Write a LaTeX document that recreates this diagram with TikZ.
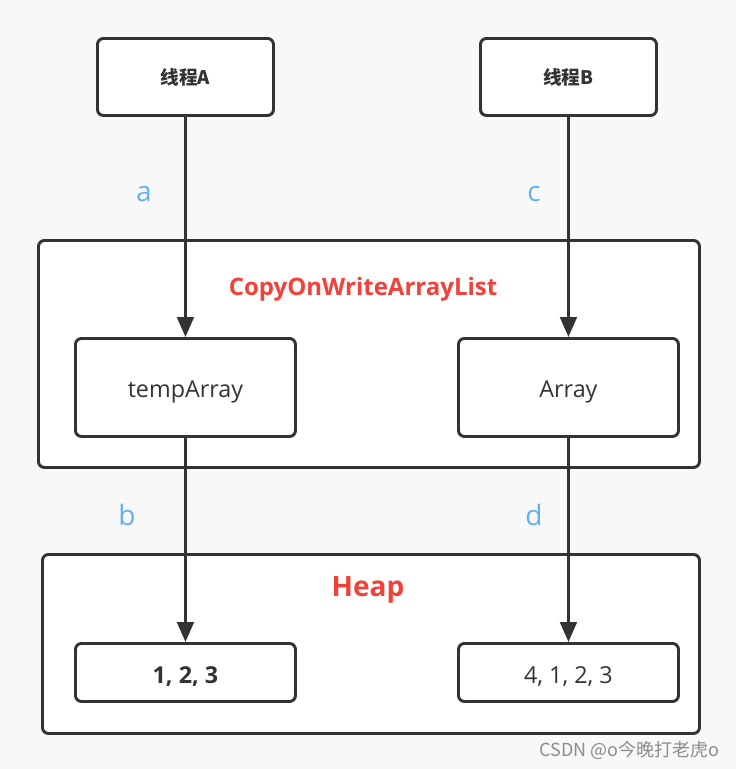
\documentclass[tikz,border=0pt]{standalone}
\usepackage{fontspec}
\setmainfont{Open Sans}
\newfontfamily\cjk{Noto Sans CJK SC}
\usetikzlibrary{arrows.meta}
\definecolor{bg}{HTML}{F8F8F8}
\definecolor{ln}{HTML}{333333}
\definecolor{redt}{HTML}{F0413A}
\definecolor{bluet}{HTML}{64B0F2}
\begin{document}
\begin{tikzpicture}[x=0.75pt,y=-0.75pt,
  box/.style={draw=ln,line width=2.2pt,fill=white,rounded corners=4.5pt,inner sep=0pt,anchor=north west},
  txt/.style={text=ln,font=\fontsize{17.5}{20}\selectfont},
  lab/.style={text=bluet,font=\fontsize{21}{24}\selectfont},
  ttl/.style={text=redt,font=\bfseries\fontsize{18}{22}\selectfont},
  arr/.style={draw=ln,line width=2.2pt,-{Triangle[length=15pt,width=12.5pt]}}]
\fill[bg] (0,0) rectangle (736,769);
\useasboundingbox (0,0) rectangle (736,769);
% containers
\node[box,minimum width=661*0.75pt,minimum height=227*0.75pt] (cow) at (37,239) {};
\node[box,minimum width=657*0.75pt,minimum height=179*0.75pt] (heap) at (41,553) {};
% top boxes
\node[box,minimum width=176*0.75pt,minimum height=77*0.75pt] (ta) at (96,37) {};
\node[text=ln,font=\cjk\bfseries\fontsize{14}{16}\selectfont] at (ta.center) {线程A};
\node[box,minimum width=176*0.75pt,minimum height=77*0.75pt] (tb) at (479,37) {};
\node[text=ln,font=\cjk\bfseries\fontsize{14}{16}\selectfont] at (tb.center) {线程B};
% inner boxes
\node[box,minimum width=220*0.75pt,minimum height=98*0.75pt] (tmp) at (74,337) {};
\node[txt] at ([yshift=-3pt]tmp.center) {tempArray};
\node[box,minimum width=220*0.75pt,minimum height=98*0.75pt] (arrn) at (457,337) {};
\node[txt] at ([yshift=-3pt]arrn.center) {Array};
\node[box,minimum width=220*0.75pt,minimum height=58*0.75pt] (h1) at (74,642) {};
\node[text=ln,font=\bfseries\fontsize{17.5}{20}\selectfont] at ([yshift=-3pt]h1.center) {1, 2, 3};
\node[box,minimum width=220*0.75pt,minimum height=58*0.75pt] (h2) at (457,642) {};
\node[txt] at ([yshift=-3pt]h2.center) {4, 1, 2, 3};
% titles
\node[ttl] (cowt) at (363,289) {CopyOnWriteArrayList};
\node[text=redt,font=\bfseries\fontsize{21}{24}\selectfont] (heapt) at (368,590) {Heap};
% arrows
\draw[arr] (ta.south) -- (tmp.north);
\draw[arr] (tb.south) -- (arrn.north);
\draw[arr] (tmp.south) -- (h1.north);
\draw[arr] (arrn.south) -- (h2.north);
% labels
\node[lab] (la) at (144,194) {a};
\node[lab] (lc) at (534,194) {c};
\node[lab] (lb) at (127,515) {b};
\node[lab] (ld) at (534,515) {d};
% watermark
\node[text=black!45,font=\cjk\fontsize{13.5}{16}\selectfont,anchor=east] (wm) at (724,750) {CSDN @o今晚打老虎o};
\end{tikzpicture}
\end{document}
